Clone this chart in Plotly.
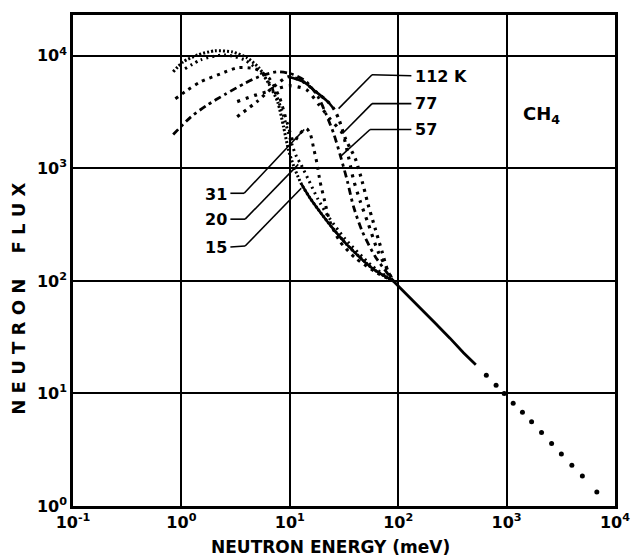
import plotly.graph_objects as go

# ---------------- data ----------------
# Neutron energy in meV, neutron flux (arb. units)
E_15 = [0.84, 1.04, 1.42, 2.03, 2.95, 4.04, 5.19, 6.39, 7.71, 8.75, 9.71, 10.9, 12.7, 15.4, 19.4, 24.4, 34.0, 58.6, 90]
F_15 = [7210, 8850, 10200, 11070, 10840, 9600, 7830, 5660, 3920, 2350, 1470, 1040, 736, 543, 400, 301, 208, 128, 100]

E_20 = [1.08, 1.51, 2.50, 3.79, 5.30, 7.10, 8.39, 9.51, 10.6, 11.5, 12.7, 14.8, 18.2, 22.9, 32.6, 57.4, 90]
F_20 = [7670, 9220, 10200, 9220, 7210, 5000, 3330, 2220, 1570, 1280, 1080, 800, 532, 368, 235, 136, 100]

E_31 = [0.88, 1.15, 1.51, 2.30, 3.27, 4.77, 6.39, 8.05, 9.51, 10.9, 12.2, 14.2, 15.4, 16.7, 17.8, 19.0, 21.0, 23.4, 28.8, 40.2, 63.7, 90]
F_31 = [4160, 5000, 5890, 6930, 7830, 7670, 6390, 4250, 2500, 1730, 2000, 2260, 2040, 1470, 1110, 767, 510, 340, 226, 160, 118, 100]

E_57 = [0.84, 1.23, 1.75, 2.50, 3.79, 5.19, 7.55, 10.3, 14.2, 18.2, 21.5, 25.4, 29.4, 34.0, 38.6, 46.5, 61.1, 90]
F_57 = [2000, 2880, 3680, 4520, 5660, 6520, 7210, 6930, 5890, 4340, 3070, 2040, 1280, 767, 461, 277, 166, 100]

E_77 = [3.27, 4.98, 7.10, 9.91, 14.2, 18.6, 23.8, 30.6, 34.7, 38.6, 44.6, 52.7, 65.0, 90]
F_77 = [3920, 4520, 5000, 5430, 5000, 3680, 2710, 2040, 1280, 800, 510, 326, 184, 100]

E_112 = [3.27, 4.98, 7.10, 9.71, 13.3, 17.4, 22.4, 25.4, 28.2, 32.6, 40.2, 46.5, 52.7, 61.1, 70.7, 80.1, 90]
F_112 = [2880, 3920, 5320, 6520, 5890, 4800, 3920, 3400, 2770, 1840, 1220, 767, 480, 295, 184, 123, 100]

# common high-energy (1/E) tail
E_tail = [90, 120, 160, 220, 300, 400, 520]
F_tail = [100, 76, 57, 42, 31, 23, 18]
E_tail_dots = [650, 800, 950, 1150, 1400, 1700, 2100, 2600, 3200, 4000, 5000, 6800]
F_tail_dots = [14.5, 11.8, 10.0, 8.2, 6.8, 5.6, 4.5, 3.6, 2.9, 2.3, 1.85, 1.33]

x_tickvals = [0.1, 1, 10, 100, 1000, 10000]
x_ticktext = ["<b>10<sup>-1</sup></b>", "<b>10<sup>0</sup></b>", "<b>10<sup>1</sup></b>",
              "<b>10<sup>2</sup></b>", "<b>10<sup>3</sup></b>", "<b>10<sup>4</sup></b>"]
y_tickvals = [1, 10, 100, 1000, 10000]
y_ticktext = ["<b>10<sup>0</sup></b>", "<b>10<sup>1</sup></b>", "<b>10<sup>2</sup></b>",
              "<b>10<sup>3</sup></b>", "<b>10<sup>4</sup></b>"]

# ---------------- figure ----------------
W, H = 642, 557
ML, MR, MT, MB = 73, 18, 13, 51
PW, PH = W - ML - MR, H - MT - MB


def P(x, y):
    """pixel -> paper coordinates"""
    return (x - ML) / PW, (H - MB - y) / PH


fig = go.Figure()

curves = [
    (E_15, F_15, dict(width=3.0, dash="2px,2px")),
    (E_20, F_20, dict(width=3.0, dash="2px,4px")),
    (E_31, F_31, dict(width=3.0, dash="3px,5px")),
    (E_57, F_57, dict(width=2.8, dash="7px,4px,3px,4px")),
    (E_77, F_77, dict(width=3.2, dash="3px,6px")),
    (E_112, F_112, dict(width=3.2, dash="3px,5px")),
]
for E, F, ln in curves:
    fig.add_trace(go.Scatter(x=E, y=F, mode="lines",
                             line=dict(color="black", shape="spline", smoothing=0.7, **ln),
                             hoverinfo="skip"))
# solid upper arc of the 112 K spectrum
fig.add_trace(go.Scatter(x=E_112[3:8], y=F_112[3:8], mode="lines",
                         line=dict(color="black", width=2.6, shape="spline", smoothing=0.7),
                         hoverinfo="skip"))
# dense (solid-looking) high-energy side of the 15 K spectrum
fig.add_trace(go.Scatter(x=E_15[12:], y=F_15[12:], mode="lines",
                         line=dict(color="black", width=2.6, shape="spline", smoothing=0.7),
                         hoverinfo="skip"))

fig.add_trace(go.Scatter(x=E_tail, y=F_tail, mode="lines", line=dict(color="black", width=2.8)))
fig.add_trace(go.Scatter(x=E_tail_dots, y=F_tail_dots, mode="markers",
                         marker=dict(color="black", size=5)))

font_main = "DejaVu Sans, Liberation Sans, Arial, sans-serif"

fig.update_layout(
    width=W, height=H,
    margin=dict(l=ML, r=MR, t=MT, b=MB),
    paper_bgcolor="white", plot_bgcolor="white",
    showlegend=False,
    font=dict(family=font_main, color="black", size=14),
    xaxis=dict(type="log", range=[-1, 4], tickvals=x_tickvals, ticktext=x_ticktext,
               showgrid=True, gridcolor="black", gridwidth=1.6,
               showline=True, linecolor="black", linewidth=2.6, mirror=True,
               ticks="", zeroline=False,
               tickfont=dict(size=16, family=font_main)),
    yaxis=dict(type="log", range=[0, 4.363], tickvals=y_tickvals, ticktext=y_ticktext,
               showgrid=True, gridcolor="black", gridwidth=1.6,
               showline=True, linecolor="black", linewidth=2.6, mirror=True,
               ticks="", zeroline=False,
               tickfont=dict(size=16, family=font_main)),
)

NB = "\u00a0"
annotations = []
# axis titles
x0, y0 = P(335, 547)
annotations.append(dict(text="<b>NEUTRON ENERGY (meV)</b>", xref="paper", yref="paper", x=x0, y=y0,
                        xanchor="center", yanchor="middle", showarrow=False,
                        font=dict(size=17, family=font_main)))
ytitle = NB.join("NEUTRON") + NB * 4 + NB.join("FLUX")
x0, y0 = P(18, 298)
annotations.append(dict(text="<b>%s</b>" % ytitle, xref="paper", yref="paper", x=x0, y=y0,
                        xanchor="center", yanchor="middle", showarrow=False, textangle=-90,
                        font=dict(size=18, family=font_main)))
# CH4 label
x0, y0 = P(549, 113)
annotations.append(dict(text="<b>CH<sub>4</sub></b>", xref="paper", yref="paper", x=x0, y=y0,
                        xanchor="center", yanchor="middle", showarrow=False,
                        font=dict(size=18, family=font_main)))

# curve labels: (text, text anchor pixel, anchor side, leader polyline in pixels)
labels = [
    ("112 K", (419, 75), "left", [(417, 74), (377, 73), (343, 107)]),
    ("77", (419, 102), "left", [(417, 102), (377, 102), (347, 132)]),
    ("57", (419, 128), "left", [(417, 128), (375, 128), (345, 155)]),
    ("31", (232, 193), "right", [(233, 192), (247, 192), (308, 128)]),
    ("20", (232, 218), "right", [(233, 218), (248, 218), (302, 163)]),
    ("15", (232, 246), "right", [(233, 246), (248, 245), (305, 187)]),
]
shapes = []
for txt, (tx, ty), side, poly in labels:
    px, py = P(tx, ty)
    annotations.append(dict(text="<b>%s</b>" % txt, xref="paper", yref="paper", x=px, y=py,
                            xanchor=side, yanchor="middle", showarrow=False,
                            font=dict(size=16, family=font_main)))
    for (ax, ay), (bx, by) in zip(poly[:-1], poly[1:]):
        a = P(ax, ay)
        b = P(bx, by)
        shapes.append(dict(type="line", xref="paper", yref="paper", x0=a[0], y0=a[1], x1=b[0], y1=b[1],
                           line=dict(color="black", width=1.6)))

fig.update_layout(annotations=annotations, shapes=shapes)

fig.write_html("out.html")
